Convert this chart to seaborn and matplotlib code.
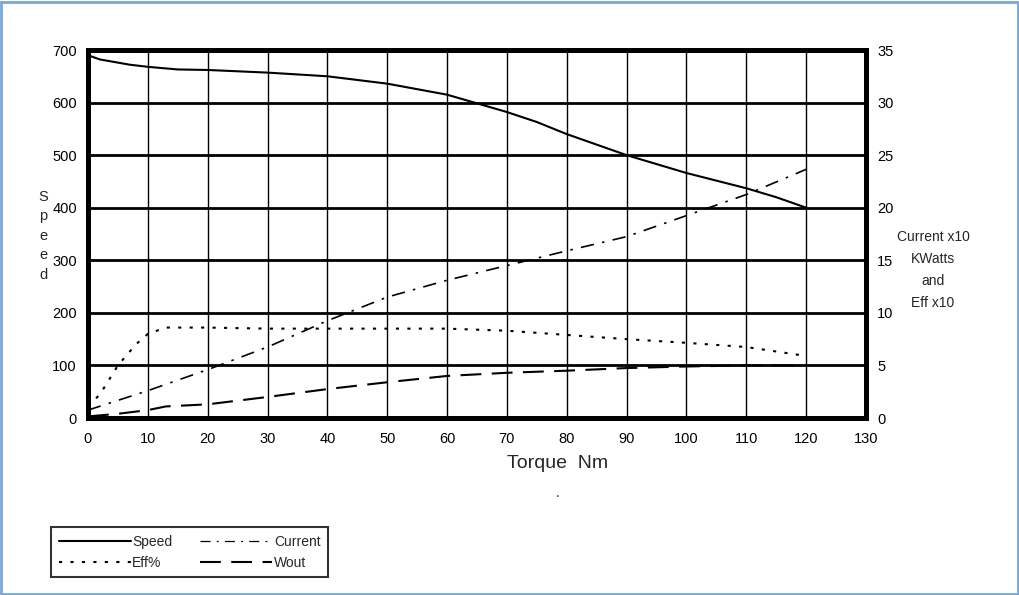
import matplotlib
matplotlib.use("Agg")
import matplotlib.pyplot as plt
import seaborn as sns
import pandas as pd
from matplotlib.patches import Rectangle
from matplotlib.lines import Line2D

sns.set_theme(style="white")
plt.rcParams['font.family'] = ['Liberation Sans', 'DejaVu Sans']

# Data (torque in Nm)
speed_torque = [0, 2, 7, 10, 15, 20, 30, 40, 50, 60, 70, 75, 80, 90, 100, 110, 115, 120]
speed_vals = [690, 682, 672, 668, 663, 662, 657, 650, 636, 615, 582, 563, 540, 500, 466, 437, 420, 400]

current_torque = [0, 10, 20, 30, 40, 50, 60, 70, 80, 90, 100, 110, 120]
current_vals = [0.75, 2.6, 4.6, 6.75, 9.25, 11.5, 13.1, 14.5, 15.9, 17.25, 19.25, 21.25, 23.65]

eff_torque = [0, 2, 5, 8, 10, 13, 20, 30, 40, 50, 60, 70, 80, 90, 100, 110, 120]
eff_vals = [1.1, 2.25, 5.0, 7.0, 8.0, 8.6, 8.6, 8.5, 8.5, 8.5, 8.5, 8.3, 7.9, 7.5, 7.15, 6.75, 5.9]

wout_torque = [0, 5, 10, 13, 20, 30, 40, 50, 60, 70, 80, 90, 100, 110, 120]
wout_vals = [0.15, 0.4, 0.75, 1.1, 1.3, 2.0, 2.75, 3.4, 4.0, 4.3, 4.5, 4.75, 4.9, 5.0, 5.0]

x_ticks = list(range(0, 131, 10))
left_ticks = list(range(0, 701, 100))
right_ticks = list(range(0, 36, 5))

fig = plt.figure(figsize=(10.2, 5.95), dpi=100)
ax = fig.add_axes([88/1020, 1-418/595, (866-88)/1020, (418-50)/595])
ax2 = ax.twinx()

df_s = pd.DataFrame({"t": speed_torque, "v": speed_vals})
df_c = pd.DataFrame({"t": current_torque, "v": current_vals})
df_e = pd.DataFrame({"t": eff_torque, "v": eff_vals})
df_w = pd.DataFrame({"t": wout_torque, "v": wout_vals})

sns.lineplot(data=df_s, x="t", y="v", ax=ax, color="black", lw=1.5, zorder=5)
sns.lineplot(data=df_c, x="t", y="v", ax=ax2, color="black", lw=1.2,
             linestyle=(0, (8, 5, 1.5, 5)))
sns.lineplot(data=df_e, x="t", y="v", ax=ax2, color="black", lw=1.5,
             linestyle=(0, (1.5, 4)))
sns.lineplot(data=df_w, x="t", y="v", ax=ax2, color="black", lw=1.5,
             linestyle=(0, (10, 5)))

ax.set_xlim(0, 130)
ax.set_ylim(0, 700)
ax2.set_ylim(0, 35)
ax.set_xticks(x_ticks)
ax.set_yticks(left_ticks)
ax2.set_yticks(right_ticks)
ax.set_xticklabels([str(t) for t in x_ticks], fontsize=10.5)
ax.set_yticklabels([str(t) for t in left_ticks], fontsize=10.5)
ax2.set_yticklabels([str(t) for t in right_ticks], fontsize=10.5)
ax.tick_params(axis='x', length=0, pad=10, colors='black')
ax.tick_params(axis='y', length=0, pad=8, colors='black')
ax2.tick_params(axis='y', length=0, pad=8, colors='black')

# grid
for t in x_ticks[1:-1]:
    ax.axvline(t, color='black', lw=1.0, zorder=1)
for t in left_ticks[1:-1]:
    ax.axhline(t, color='black', lw=2.0, zorder=1)

for a in (ax, ax2):
    for side in ['left', 'right', 'top', 'bottom']:
        a.spines[side].set_visible(True)
        a.spines[side].set_color('black')
        a.spines[side].set_linewidth(3.5)

ax.set_xlabel("")
ax.set_ylabel("")
ax2.set_ylabel("")

fig.text(558/1020, 1-464/595, "Torque  Nm", ha='center', va='center', fontsize=14)
fig.text(558/1020, 1-493/595, ".", ha='center', va='center', fontsize=10)
fig.text(43/1020, 1-236/595, "S\np\ne\ne\nd", ha='center', va='center', fontsize=10.5,
         linespacing=1.5)
fig.text(933/1020, 1-270/595, "Current x10\nKWatts\nand\nEff x10", ha='center', va='center',
         fontsize=10, linespacing=1.7)

handles = [
    Line2D([], [], color='black', lw=1.5),
    Line2D([], [], color='black', lw=1.5, linestyle=(0, (1.5, 4))),
    Line2D([], [], color='black', lw=0.9, linestyle=(0, (8, 5, 1.5, 5))),
    Line2D([], [], color='black', lw=1.5, linestyle=(0, (10, 5))),
]
labels = ["Speed", "Eff%", "Current", "Wout"]
leg = fig.legend(handles, labels, ncol=2, loc='upper left',
                 bbox_to_anchor=(51/1020, 1-527/595), borderaxespad=0, fontsize=10,
                 frameon=True, fancybox=False, handlelength=5.2, handletextpad=0.1,
                 columnspacing=2.0, borderpad=0.55, labelspacing=0.5)
leg.get_frame().set_edgecolor('black')
leg.get_frame().set_linewidth(1.5)

# window frame
fig.patches.append(Rectangle((0.001, 0.001), 0.997, 0.995, transform=fig.transFigure,
                             fill=False, edgecolor='#7aa7d8', lw=2))

fig.savefig("out.png", dpi=100)
